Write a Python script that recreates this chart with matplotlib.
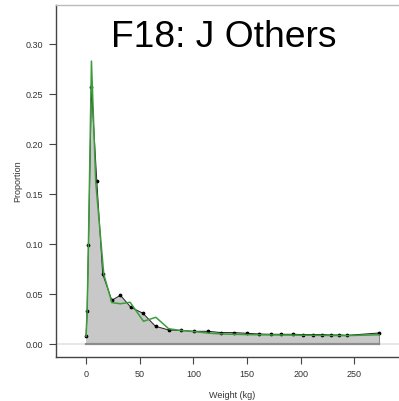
import matplotlib.pyplot as plt

# observed proportions by weight class
weight = [0, 1, 2.2, 5, 10, 15.5, 24, 32, 41.7, 53, 64.7, 77, 88.6, 100.5,
          113.8, 126, 137.8, 150, 161, 172, 182, 193, 202.4, 211, 220, 228,
          236, 243.5, 273]
observed = [0.008, 0.033, 0.099, 0.257, 0.163, 0.070, 0.044, 0.049, 0.037,
            0.031, 0.018, 0.0143, 0.0138, 0.013, 0.013, 0.0117, 0.0117, 0.011,
            0.0103, 0.010, 0.010, 0.010, 0.0097, 0.0097, 0.0097, 0.0093,
            0.0093, 0.009, 0.0113]

# fitted proportions (green line)
fit_weight = [0, 1, 2.2, 5, 9, 16.5, 24, 32, 41, 53.5, 65, 77, 88.6, 100.5,
              115.7, 130, 150, 170, 190, 210, 230, 243, 273]
fitted = [0.008, 0.034, 0.100, 0.283, 0.162, 0.070, 0.0417, 0.0405, 0.042,
          0.023, 0.027, 0.0155, 0.0138, 0.0127, 0.011, 0.0102, 0.0097,
          0.0094, 0.0092, 0.009, 0.0088, 0.0087, 0.0095]

xticks = [0, 50, 100, 150, 200, 250]
yticks = [0.0, 0.05, 0.10, 0.15, 0.20, 0.25, 0.30]

plt.rcParams["font.family"] = ["Liberation Sans", "DejaVu Sans"]

fig = plt.figure(figsize=(3.99, 4.01), dpi=100)
ax = fig.add_axes([0.1404, 0.1097, 0.885, 0.8778])

ax.axhline(0, color="#e4e4e4", lw=1.2, zorder=0)
ax.fill_between(weight, observed, 0, facecolor="#c8c8c8", edgecolor="none", zorder=1)
ax.plot([weight[0], weight[-1]], [0, 0], color="#8c8c8c", lw=1.6, zorder=2)
ax.plot([weight[-1], weight[-1]], [0, observed[-1]], color="#8c8c8c", lw=0.8, zorder=2)
ax.plot(weight, observed, color="#222222", lw=0.7, marker="o", ms=1.7,
        mec="black", mfc="black", zorder=3)
ax.plot(fit_weight, fitted, color="#3c9c3c", lw=1.1, zorder=4)

ax.set_xlim(-28, 301)
ax.set_ylim(-0.0127, 0.339)
ax.set_xticks(xticks)
ax.set_xticklabels([str(t) for t in xticks])
ax.set_yticks(yticks)
ax.set_yticklabels(["%.2f" % t for t in yticks])

for side in ["left", "bottom"]:
    ax.spines[side].set_color("#444444")
    ax.spines[side].set_linewidth(1.0)
ax.spines["top"].set_color("#bbbbbb")
ax.spines["top"].set_linewidth(1.0)
ax.spines["right"].set_visible(False)
ax.tick_params(axis="both", colors="#444444", labelcolor="#333333",
               labelsize=6.5, length=5, width=0.8, pad=4)

ax.set_xlabel("Weight (kg)", fontsize=6.5, color="#333333", labelpad=9)
ax.set_ylabel("Proportion", fontsize=6.5, color="#333333", labelpad=3)

fig.text(224 / 399, 1 - 46.7 / 401, "F18: J Others", fontsize=26.8,
         ha="center", va="baseline", color="black")

fig.savefig("out.png", dpi=100)
